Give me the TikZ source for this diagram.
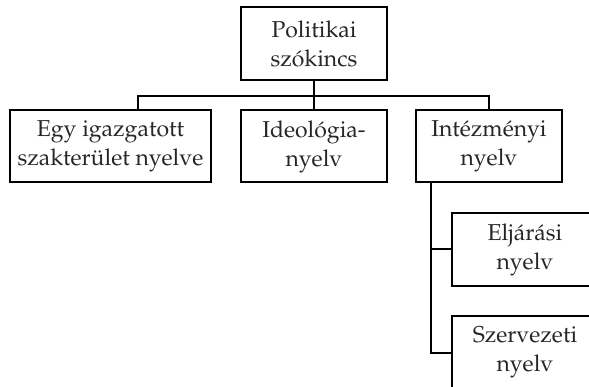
\documentclass[tikz,border=0pt]{standalone}
\IfFileExists{mathpazo.sty}{\usepackage[T1]{fontenc}\usepackage{mathpazo}}{%
  \usepackage{fontspec}\setmainfont{Liberation Serif}}
\usetikzlibrary{positioning}
\tikzset{
  box/.style={draw,line width=2pt,minimum width=146pt,minimum height=72pt,
    align=center,inner sep=2pt,text=black!85,
    font=\fontsize{23}{29}\selectfont},
  conn/.style={line width=2pt}
}

\begin{document}
\begin{tikzpicture}[x=1pt,y=-1pt]
% Page frame, boxes at the right and bottom run off it
\clip (0,0) rectangle (589,387);
% Top of the tree
\node[box,minimum height=73pt] (pol) at (314,43.5) {Politikai\\szókincs};
% Second row
\node[box,minimum width=201pt] (szak) at (110.5,146.5) {Egy igazgatott\\szakterület nyelve};
\node[box] (ideo) at (314,146.5) {Ideológia-\\nyelv};
\node[box] (intez) at (489,146.5) {Intézményi\\nyelv};
% Sub-branches of the third box
\node[box,minimum height=73pt] (elj) at (525,249.5) {Eljárási\\nyelv};
\node[box,minimum height=73pt] (szerv) at (525,352.5) {Szervezeti\\nyelv};
% Bus line under the top box
\coordinate (busL) at (138,96);
\coordinate (busR) at (489,96);
\draw[conn] (pol.south) -- (ideo.north);
\draw[conn] (busL |- szak.north) -- (busL) -- (busR) -- (intez.north);
% Trunk down from the third box
\coordinate (trunk) at (431,200);
\draw[conn] (trunk |- intez.south) -- (trunk |- szerv.west) -- (szerv.west);
\draw[conn] (trunk |- elj.west) -- (elj.west);
\end{tikzpicture}
\end{document}
